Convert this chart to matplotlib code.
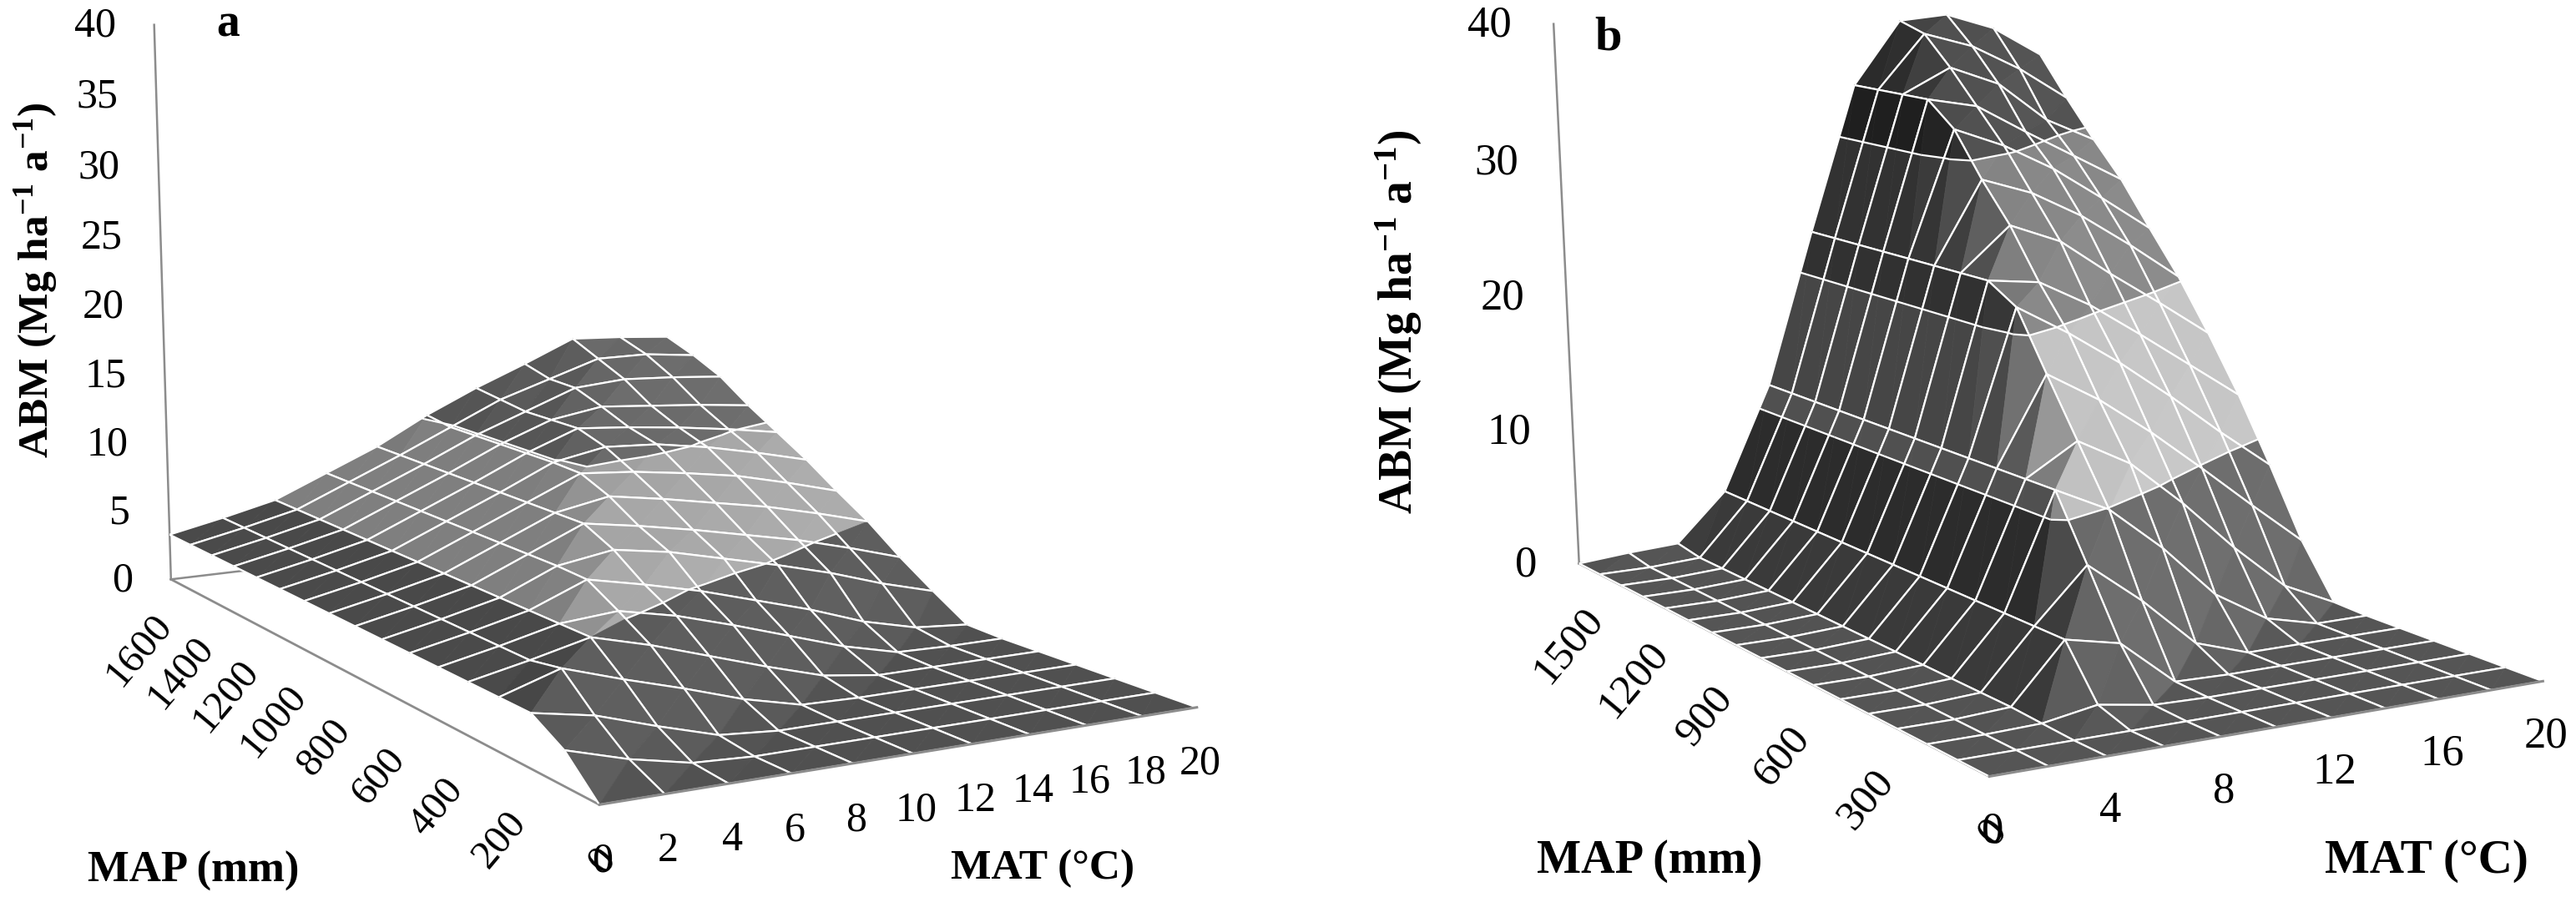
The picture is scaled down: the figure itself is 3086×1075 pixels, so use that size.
import numpy as np
import matplotlib
matplotlib.use('Agg')
import matplotlib.pyplot as plt
from mpl_toolkits.mplot3d import proj3d
from mpl_toolkits.mplot3d.art3d import Poly3DCollection, Line3DCollection

plt.rcParams['font.family'] = ['Liberation Serif', 'DejaVu Serif']
plt.rcParams['mathtext.fontset'] = 'custom'
plt.rcParams['mathtext.rm'] = 'Liberation Serif:bold'
plt.rcParams['mathtext.default'] = 'rm'

W, H = 3086, 1075

# ABM (Mg/ha/a), rows = MAP 0..1600 by 100, columns = MAT 0..20 by 2
mat = np.arange(0, 21, 2)
map_mm = np.arange(0, 1601, 100)

abm_a = np.array([
    [0.0, 0.0, 0.0, 0.0, 0.0, 0.0, 0.0, 0.0, 0.0, 0.0, 0.0],
    [2.1, 1.0, 0.2, 0.0, 0.0, 0.0, 0.0, 0.0, 0.0, 0.0, 0.0],
    [3.3, 2.6, 1.4, 0.3, 0.0, 0.0, 0.0, 0.0, 0.0, 0.0, 0.0],
    [3.3, 4.5, 3.3, 2.2, 1.0, 0.1, 0.0, 0.0, 0.0, 0.0, 0.0],
    [3.3, 4.1, 5.0, 4.0, 2.8, 1.6, 0.5, 0.0, 0.0, 0.0, 0.0],
    [3.3, 4.1, 5.0, 5.3, 4.5, 3.4, 2.2, 1.0, 0.1, 0.0, 0.0],
    [3.3, 4.1, 5.0, 6.5, 5.7, 4.8, 3.7, 2.6, 1.3, 0.4, 0.1],
    [3.3, 4.1, 5.0, 6.6, 7.2, 6.6, 5.7, 4.8, 3.8, 2.6, 1.6],
    [3.3, 4.1, 5.0, 6.6, 8.2, 7.6, 6.9, 6.1, 5.3, 4.3, 3.2],
    [3.3, 4.1, 5.0, 6.6, 8.2, 8.9, 8.3, 7.6, 6.9, 6.0, 5.0],
    [3.3, 4.1, 5.0, 6.6, 8.2, 9.8, 9.5, 9.0, 8.4, 7.5, 6.5],
    [3.3, 4.1, 5.0, 6.6, 8.2, 9.9, 10.6, 10.4, 9.8, 9.0, 8.1],
    [3.3, 4.1, 5.0, 6.6, 8.2, 9.9, 11.3, 11.0, 10.6, 10.1, 9.5],
    [3.3, 4.1, 5.0, 6.6, 8.2, 9.9, 11.3, 11.9, 11.6, 11.3, 10.9],
    [3.3, 4.1, 5.0, 6.6, 8.2, 9.9, 11.3, 12.7, 13.0, 12.8, 12.5],
    [3.3, 4.1, 5.0, 6.6, 8.2, 9.9, 11.6, 12.8, 14.0, 14.0, 13.6],
    [3.3, 4.1, 5.0, 6.6, 8.2, 10.2, 11.9, 13.4, 15.0, 14.8, 14.5],
])

abm_b = np.array([
    [0.0, 0.0, 0.0, 0.0, 0.0, 0.0, 0.0, 0.0, 0.0, 0.0, 0.0],
    [0.0, 0.0, 0.0, 0.0, 0.0, 0.0, 0.0, 0.0, 0.0, 0.0, 0.0],
    [0.0, 0.0, 0.1, 0.7, 0.1, 0.0, 0.0, 0.0, 0.0, 0.0, 0.0],
    [0.0, 0.0, 0.2, 4.0, 3.2, 0.1, 0.0, 0.0, 0.0, 0.0, 0.0],
    [0.0, 0.0, 0.2, 4.0, 7.5, 4.6, 1.2, 0.0, 0.0, 0.0, 0.0],
    [0.0, 0.0, 0.2, 4.0, 11.7, 9.9, 6.8, 3.1, 0.9, 0.0, 0.0],
    [0.0, 0.0, 0.2, 4.0, 11.7, 13.8, 11.8, 8.6, 5.0, 1.8, 0.1],
    [0.0, 0.0, 0.2, 4.0, 11.7, 17.7, 15.5, 12.8, 9.8, 6.7, 3.7],
    [0.0, 0.0, 0.2, 4.0, 11.7, 21.7, 19.5, 17.0, 14.2, 11.2, 8.4],
    [0.0, 0.0, 0.2, 4.0, 11.7, 23.0, 22.5, 20.5, 18.0, 15.4, 12.8],
    [0.0, 0.0, 0.2, 4.0, 11.7, 23.0, 26.0, 24.5, 21.8, 19.3, 16.7],
    [0.0, 0.0, 0.2, 4.0, 11.7, 23.0, 28.8, 27.5, 25.5, 23.0, 20.3],
    [0.0, 0.0, 0.2, 4.0, 11.7, 23.0, 32.0, 30.5, 28.5, 26.0, 23.4],
    [0.0, 0.0, 0.2, 4.0, 11.7, 23.0, 33.8, 33.0, 30.8, 28.7, 26.6],
    [0.0, 0.0, 0.2, 4.0, 11.7, 23.0, 33.8, 35.5, 34.0, 31.0, 29.2],
    [0.0, 0.0, 0.2, 4.0, 11.7, 23.0, 33.8, 37.7, 36.5, 34.5, 32.0],
    [0.0, 0.3, 0.5, 4.0, 11.7, 23.0, 33.8, 38.4, 38.6, 37.3, 35.0],
])

bands_a = [80, 149, 99, 99]     # grey level of each z band on flat ground
bands_b = [85, 155, 109, 67]

mat_ticks_a = [0, 2, 4, 6, 8, 10, 12, 14, 16, 18, 20]
map_ticks_a = [0, 200, 400, 600, 800, 1000, 1200, 1400, 1600]
z_ticks_a = [0, 5, 10, 15, 20, 25, 30, 35, 40]
mat_ticks_b = [0, 4, 8, 12, 16, 20]
map_ticks_b = [0, 300, 600, 900, 1200, 1500]
z_ticks_b = [0, 10, 20, 30, 40]


def clip_band(tri, lo, hi):
    # clip a polygon to lo <= z <= hi
    poly = list(tri)
    for sign, lev in ((1, lo), (-1, hi)):
        out = []
        for i in range(len(poly)):
            p, q = poly[i], poly[(i + 1) % len(poly)]
            dp, dq = sign * (p[2] - lev), sign * (q[2] - lev)
            if dp >= 0:
                out.append(p)
            if dp * dq < 0:
                out.append(p + (q - p) * dp / (dp - dq))
        poly = out
        if not poly:
            break
    return poly


def level_segment(tri, lev):
    pts = []
    for i in range(3):
        p, q = tri[i], tri[(i + 1) % 3]
        dp, dq = p[2] - lev, q[2] - lev
        if dp * dq < 0:
            pts.append(p + (q - p) * dp / (dp - dq))
    return pts if len(pts) == 2 else None


def shade(tri, dx, dy):
    # dz per grid cell along MAT and MAP
    a, b, c = tri
    u, v = b - a, c - a
    u = u / (dx, dy, 1.0)
    v = v / (dx, dy, 1.0)
    n = np.cross(u, v)
    n = n * np.sign(n[2]) if n[2] != 0 else np.array([0, 0, 1.0])
    n = n * (1.0, 1.0, 5.0)
    n = n / np.linalg.norm(n)
    return 1 + 0.45 * n[0] - 0.3 * n[1] + 0.23 * (n[2] - 1)


def draw_panel(pos, view, aspect, focal, z, bands, step, mat_ticks, map_ticks, z_ticks,
               map_off, mat_off, z_off, tick_size, map_size):
    ax = fig.add_axes(pos, projection='3d')
    ax.computed_zorder = False
    ax.set_axis_off()
    ax.patch.set_alpha(0)
    ax.set_xlim(0, 20, view_margin=0)
    ax.set_ylim(0, 1600, view_margin=0)
    ax.set_zlim(0, 40, view_margin=0)
    ax.view_init(elev=view[0], azim=view[1], roll=view[2])
    ax.set_proj_type('persp', focal_length=focal)
    ax.set_box_aspect(aspect)

    dx, dy = mat[1] - mat[0], map_mm[1] - map_mm[0]
    axis_col = '#8c8c8c'
    ax.plot([0, 0], [1600, 1600], [0, 40], color=axis_col, lw=1.8, zorder=0, clip_on=False)
    ax.plot([0, 20], [1600, 1600], [0, 0], color=axis_col, lw=1.8, zorder=0, clip_on=False)
    ax.plot([0, 0], [1600, 0], [0, 0], color=axis_col, lw=2.0, zorder=0, clip_on=False)

    order = 1
    for k in range(len(map_mm) - 2, -1, -1):
        for j in range(len(mat) - 2, -1, -1):
            P = lambda kk, jj: np.array([mat[jj], map_mm[kk], z[kk, jj]], float)
            p00, p01, p10, p11 = P(k, j), P(k, j + 1), P(k + 1, j), P(k + 1, j + 1)
            tris = [(p10, p11, p00), (p11, p01, p00)]
            polys, cols, segs = [], [], []
            for tri in tris:
                f = shade(tri, dx, dy)
                for b, base in enumerate(bands):
                    piece = clip_band(tri, b * step, (b + 1) * step)
                    if len(piece) >= 3:
                        g = np.clip(base * f / 255.0, 0, 1)
                        polys.append(np.array(piece))
                        cols.append((g, g, g, 1.0))
                    if b > 0:
                        s = level_segment(tri, b * step)
                        if s:
                            segs.append(s)
            pc = Poly3DCollection(polys, facecolors=cols, edgecolors=cols, linewidths=0.5, zorder=order)
            ax.add_collection3d(pc)
            segs += [[p00, p01], [p01, p11], [p11, p10], [p10, p00]]
            lc = Line3DCollection(segs, colors='white', linewidths=1.6, zorder=order + 0.5)
            ax.add_collection3d(lc)
            order += 1

    ax.plot([0, 20], [0, 0], [0, 0], color=axis_col, lw=2.2, zorder=order + 1, clip_on=False)

    # tick labels sit at a pixel offset from the projected axis position
    M = ax.get_proj()
    for v in map_ticks:
        x2, y2, _ = proj3d.proj_transform(0, v, 0, M)
        # the MAP 0 label lands on top of the MAT 0 label, as in the source figure
        off = map_off if v > 0 else mat_off
        ax.annotate(str(v), (x2, y2), xycoords='data', xytext=off, textcoords='offset pixels',
                    ha='center', va='center', fontsize=map_size, rotation=50, zorder=order + 2,
                    rotation_mode='anchor', annotation_clip=False)
    for v in mat_ticks:
        x2, y2, _ = proj3d.proj_transform(v, 0, 0, M)
        ax.annotate(str(v), (x2, y2), xycoords='data', xytext=mat_off, textcoords='offset pixels',
                    ha='center', va='center', fontsize=tick_size, zorder=order + 2, annotation_clip=False)
    for v in z_ticks:
        x2, y2, _ = proj3d.proj_transform(0, 1600, v, M)
        ax.annotate(str(v), (x2, y2), xycoords='data', xytext=z_off, textcoords='offset pixels',
                    ha='right', va='center', fontsize=tick_size, zorder=order + 2, annotation_clip=False)
    return ax


def frame(left, top, side):
    return [left / W, 1 - (top + side) / H, side / W, side / H]


fig = plt.figure(figsize=(W / 100, H / 100), dpi=100)

draw_panel(frame(-32.7, -345.5, 1550.2), (8.4909, -118.4814, 0.5211),
           (np.exp(-0.4745), 1, np.exp(-0.5034)), 0.4767, abm_a, bands_a, 5,
           mat_ticks_a, map_ticks_a, z_ticks_a, (-38, -85), (4, -68), (-46, -2), 36, 35)
draw_panel(frame(1650.5, -327.9, 1491.5), (9.7297, -117.2744, 1.5814),
           (np.exp(-0.5183), 1, np.exp(-0.5093)), 0.5832, abm_b, bands_b, 10,
           mat_ticks_b, map_ticks_b, z_ticks_b, (-38, -85), (4, -66), (-50, -2), 38, 37)


def ftext(x, y, s, **kw):
    fig.text(x / W, 1 - y / H, s, ha='center', va='center', fontweight='bold', **kw)


abm = 'ABM (Mg ha$^{-1}$ a$^{-1}$)'
ftext(43, 336, abm, fontsize=37, rotation=90)
ftext(1676, 386, abm, fontsize=40, rotation=90)
ftext(273, 30, 'a', fontsize=40)
ftext(1927, 46, 'b', fontsize=42)
ftext(232, 1044, 'MAP (mm)', fontsize=38)
ftext(1249, 1041, 'MAT (°C)', fontsize=37)
ftext(1976, 1032, 'MAP (mm)', fontsize=40.5)
ftext(2907, 1032, 'MAT (°C)', fontsize=41)

fig.savefig('out.png', dpi=100)
